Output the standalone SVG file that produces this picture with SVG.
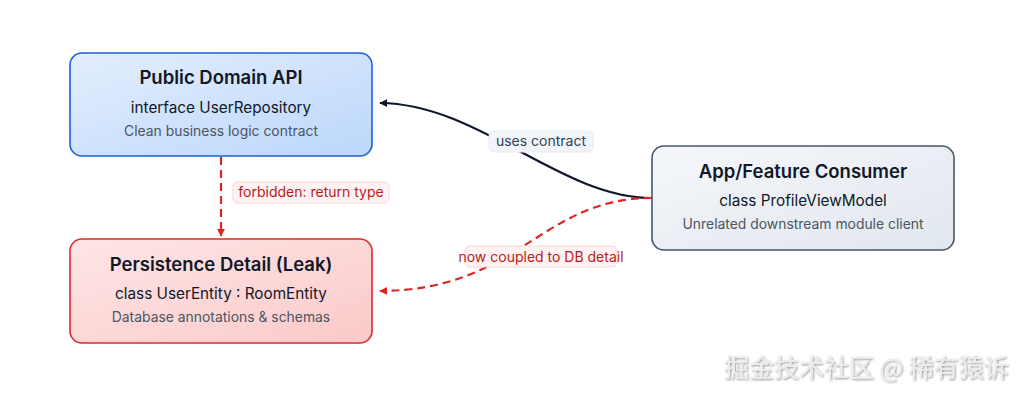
<svg xmlns="http://www.w3.org/2000/svg" width="1024" height="396" viewBox="0 0 1024 396">
<defs>
<linearGradient id="gBlue" x1="0" y1="0" x2="1" y2="1"><stop offset="0" stop-color="#e3eefd"/><stop offset="1" stop-color="#bcd7fb"/></linearGradient>
<linearGradient id="gRed" x1="0" y1="0" x2="1" y2="1"><stop offset="0" stop-color="#fee6e6"/><stop offset="1" stop-color="#fbc9c9"/></linearGradient>
<linearGradient id="gGrey" x1="0" y1="0" x2="1" y2="1"><stop offset="0" stop-color="#f5f7fa"/><stop offset="1" stop-color="#e1e7ef"/></linearGradient>
<marker id="arrBlack" viewBox="0 0 10 10" refX="9" refY="5" markerWidth="8" markerHeight="8" markerUnits="userSpaceOnUse" orient="auto"><path d="M0,0 L10,5 L0,10 z" fill="#0f172a"/></marker>
<marker id="arrRed" viewBox="0 0 10 10" refX="9" refY="5" markerWidth="8" markerHeight="8" markerUnits="userSpaceOnUse" orient="auto"><path d="M0,0 L10,5 L0,10 z" fill="#dc2626"/></marker>
<filter id="sh" x="-5%" y="-20%" width="110%" height="140%"><feDropShadow dx="1" dy="1" stdDeviation="0.8" flood-color="#000" flood-opacity="0.45"/></filter>
</defs>
<style>
text{font-family:Inter,"Noto Sans","Liberation Sans",sans-serif;text-anchor:middle}
.t{font-size:18.5px;font-weight:600;fill:#111827}
.s{font-size:15.3px;fill:#111827}
.d{font-size:13.9px;fill:#4b5563}
.lbl{font-size:14px}
.wm{font-family:"Noto Sans CJK SC","Noto Sans",sans-serif;font-size:25px;fill:#ececec;text-anchor:start}
</style>
<rect width="1024" height="396" fill="#ffffff"/>
<g id="connectors">
<path d="M652,198 C560,198 480,104 380,103" fill="none" stroke="#0f172a" stroke-width="2.2" marker-end="url(#arrBlack)"/>
<path d="M652,198 C540,198 520,290 380,291" fill="none" stroke="#dc2626" stroke-width="2.2" stroke-dasharray="8,5" marker-end="url(#arrRed)"/>
<path d="M221,157 L221,236" fill="none" stroke="#dc2626" stroke-width="2.2" stroke-dasharray="8,5" marker-end="url(#arrRed)"/>
<g id="label-uses">
<rect x="489" y="131" width="104" height="21" rx="5" fill="#f1f5f9" stroke="#e6ebf1"/>
<text class="lbl" x="541" y="146" fill="#334155">uses contract</text>
</g>
<g id="label-coupled">
<rect x="465" y="246" width="152" height="21" rx="5" fill="#fef2f2" stroke="#fbd5d5"/>
<text class="lbl" x="541" y="262" fill="#b91c1c">now coupled to DB detail</text>
</g>
<g id="label-forbidden">
<rect x="233" y="182" width="156" height="21" rx="5" fill="#fef2f2" stroke="#fbd5d5"/>
<text class="lbl" x="311" y="197" fill="#b91c1c">forbidden: return type</text>
</g>
</g>
<g id="node-api">
<rect x="70" y="53" width="302" height="103" rx="12" fill="url(#gBlue)" stroke="#1d5fd6" stroke-width="1.6"/>
<text class="t" x="221" y="84">Public Domain API</text>
<text class="s" x="221" y="113">interface UserRepository</text>
<text class="d" x="221" y="136">Clean business logic contract</text>
</g>
<g id="node-persistence">
<rect x="70" y="239" width="302" height="104" rx="12" fill="url(#gRed)" stroke="#d92b2b" stroke-width="1.6"/>
<text class="t" x="221" y="271">Persistence Detail (Leak)</text>
<text class="s" x="221" y="299">class UserEntity : RoomEntity</text>
<text class="d" x="221" y="322">Database annotations &amp; schemas</text>
</g>
<g id="node-consumer">
<rect x="652" y="146" width="302" height="104" rx="12" fill="url(#gGrey)" stroke="#475569" stroke-width="1.6"/>
<text class="t" x="803" y="178">App/Feature Consumer</text>
<text class="s" x="803" y="206">class ProfileViewModel</text>
<text class="d" x="803" y="229">Unrelated downstream module client</text>
</g>
<text class="wm" x="724" y="377" filter="url(#sh)">掘金技术社区 @ 稀有猿诉</text>
</svg>
